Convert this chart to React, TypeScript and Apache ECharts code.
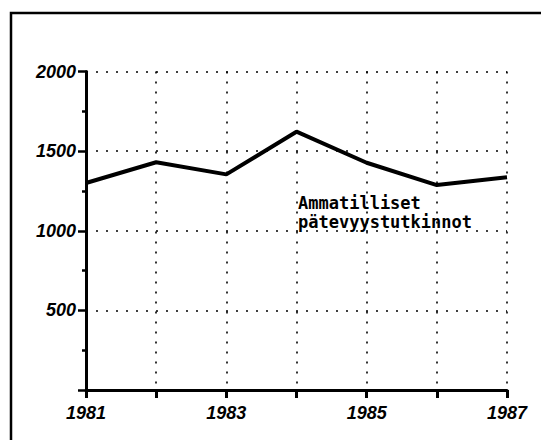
import React, { useEffect, useRef } from "react";
import * as echarts from "echarts";

const years = ["1981", "1982", "1983", "1984", "1985", "1986", "1987"];
const values = [1300, 1430, 1354, 1622, 1427, 1287, 1336];
const yTicks = [0, 500, 1000, 1500, 2000];
const seriesLabel = "Ammatilliset\npätevyystutkinnot";
const labeledYears = ["1981", "1983", "1985", "1987"];

export default function App() {
  const ref = useRef<HTMLDivElement>(null);
  useEffect(() => {
    if (!ref.current) return;
    const chart = echarts.init(ref.current, undefined, { renderer: "svg" });
    const labelFont = {
      fontFamily: "'Liberation Sans Narrow', 'Liberation Sans', Arial, sans-serif",
      fontStyle: "italic" as const,
      fontWeight: "bold" as const,
      fontSize: 18,
      color: "#000",
    };
    const dotted = { color: "#000", width: 1.6, type: [2, 8] as number[] };
    chart.setOption({
      animation: false,
      backgroundColor: "#fff",
      grid: { left: 86, right: 34, top: 71.5, bottom: 50, containLabel: false },
      xAxis: {
        type: "category",
        data: years,
        boundaryGap: false,
        axisLine: { lineStyle: { color: "#000", width: 3 } },
        axisTick: { show: true, length: 8, interval: 0, lineStyle: { color: "#000", width: 3 } },
        axisLabel: {
          ...labelFont,
          margin: 14,
          interval: 0,
          formatter: (v: string) => (labeledYears.includes(v) ? v : ""),
        },
        splitLine: { show: true, interval: 0, lineStyle: dotted },
      },
      yAxis: {
        type: "value",
        min: yTicks[0],
        max: yTicks[yTicks.length - 1],
        interval: 500,
        axisLine: { show: true, lineStyle: { color: "#000", width: 3 } },
        axisTick: { show: true, length: 8, lineStyle: { color: "#000", width: 2.5 } },
        minorTick: { show: true, splitNumber: 2, length: 4, lineStyle: { color: "#000", width: 2.5 } },
        axisLabel: {
          ...labelFont,
          margin: 10,
          formatter: (v: number) => (v === 0 ? "" : String(v)),
        },
        splitLine: { show: true, lineStyle: dotted },
      },
      graphic: [
        {
          type: "rect",
          shape: { x: 11, y: 13, width: 600, height: 600 },
          style: { fill: "none", stroke: "#000", lineWidth: 2.5 },
          silent: true,
        },
        {
          type: "text",
          x: 298,
          y: 193,
          style: {
            text: seriesLabel,
            fontFamily: "'DejaVu Sans Mono', 'Liberation Mono', monospace",
            fontWeight: "bold",
            fontSize: 17,
            lineHeight: 19,
            fill: "#000",
            verticalAlign: "top",
          },
        },
      ],
      series: [
        {
          type: "line",
          data: values,
          symbol: "none",
          lineStyle: { color: "#000", width: 4 },
        },
      ],
    });
    return () => chart.dispose();
  }, []);
  return (
    <div
      ref={ref}
      style={{ position: "fixed", left: 0, top: 0, width: 541, height: 440, background: "#fff" }}
    />
  );
}
